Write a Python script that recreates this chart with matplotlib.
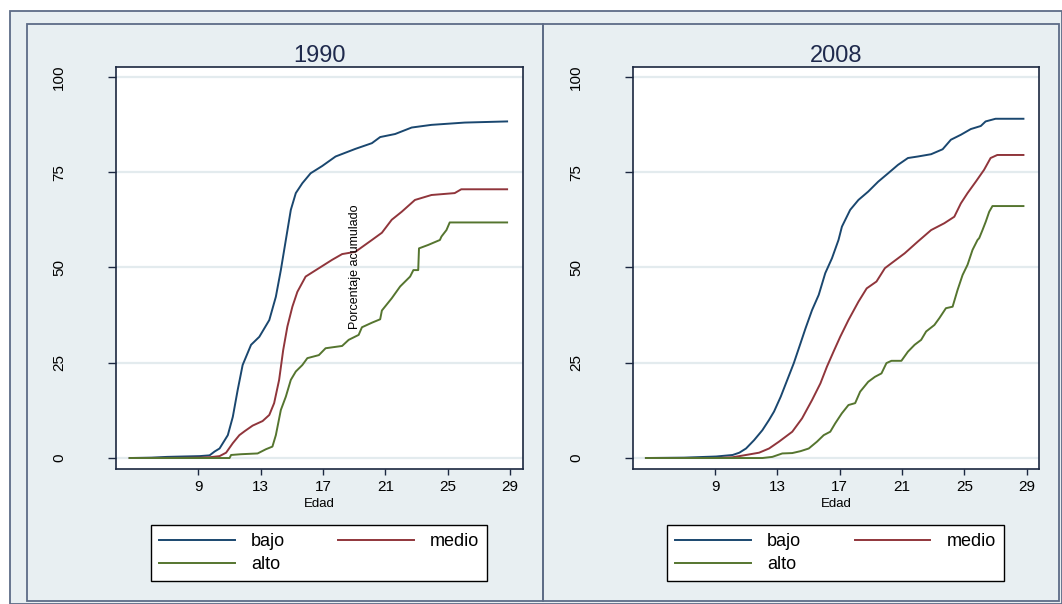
"""Cumulative percentage by age (1990 vs 2008), three groups, Stata s2color look."""

import matplotlib

matplotlib.use("Agg")
import matplotlib.pyplot as plt  # noqa: E402
from matplotlib.patches import Rectangle  # noqa: E402

plt.rcParams["font.family"] = ["Liberation Sans", "DejaVu Sans"]

W, H = 1062, 604
BG = "#E8EFF2"
GRID = "#E3EBEE"
FRAME = "#5D6C87"
SPINE = "#1B2740"
TITLE = "#1F2A4D"
COLORS = {"bajo": "#1A476F", "medio": "#90353B", "alto": "#55752F"}

XTICKS = [9, 13, 17, 21, 25, 29]
YTICKS = [0, 25, 50, 75, 100]
GROUPS = ["bajo", "medio", "alto"]
PANEL_TITLES = ["1990", "2008"]

# 1990
AGE_1990_BAJO = [4.6, 6.0, 7.0, 8.0, 9.08, 9.72, 10.04, 10.36, 10.89, 11.21, 11.52, 11.84,
                 12.38, 12.91, 13.55, 13.97, 14.29, 14.61, 14.93, 15.25, 15.67, 16.2,
                 16.94, 17.8, 19.07, 20.13, 20.66, 21.62, 22.68, 23.95, 26.08, 28.8]
PCT_1990_BAJO = [0.0, 0.1, 0.3, 0.4, 0.5, 0.7, 1.7, 2.5, 6.0, 10.8, 17.8, 24.4,
                 29.7, 31.8, 36.2, 42.3, 49.3, 57.2, 65.1, 69.5, 72.1, 74.7,
                 76.6, 79.1, 81.1, 82.6, 84.2, 85.0, 86.7, 87.4, 88.0, 88.3]
AGE_1990_MEDIO = [4.6, 8.0, 9.0, 9.72, 10.36, 10.78, 11.21, 11.63, 11.99, 12.48, 13.12,
                  13.55, 13.86, 14.18, 14.44, 14.71, 15.03, 15.35, 15.88, 16.73, 17.58,
                  18.22, 19.07, 20.13, 20.77, 21.4, 22.04, 22.89, 23.95, 25.44, 25.86, 28.8]
PCT_1990_MEDIO = [0.0, 0.05, 0.1, 0.2, 0.5, 1.4, 3.9, 6.0, 7.1, 8.5, 9.7,
                  11.3, 14.4, 20.5, 28.3, 34.5, 39.7, 43.6, 47.6, 49.8, 52.0,
                  53.5, 54.1, 57.2, 59.1, 62.5, 64.6, 67.7, 69.0, 69.5, 70.5, 70.5]
AGE_1990_ALTO = [4.6, 11.0, 11.1, 11.74, 12.8, 13.33, 13.75, 13.97, 14.29, 14.61, 14.93,
                 15.25, 15.67, 15.99, 16.73, 17.16, 18.22, 18.64, 19.28, 19.49, 20.13,
                 20.66, 20.77, 21.4, 21.94, 22.58, 22.79, 23.1, 23.15, 23.74, 24.49,
                 24.59, 24.91, 25.12, 28.8]
PCT_1990_ALTO = [0.0, 0.0, 0.8, 1.0, 1.2, 2.3, 3.0, 6.0, 12.6, 16.1, 20.5,
                 22.7, 24.4, 26.2, 27.0, 28.8, 29.4, 31.0, 32.3, 34.3, 35.5,
                 36.4, 38.7, 41.9, 45.0, 47.6, 49.3, 49.3, 55.0, 55.9, 57.2,
                 58.1, 59.8, 61.8, 61.8]

# 2008
AGE_2008_BAJO = [4.55, 7.0, 9.06, 10.12, 10.55, 10.98, 11.5, 12.03, 12.46, 12.78, 13.21,
                 13.63, 14.05, 14.48, 14.8, 15.22, 15.65, 16.07, 16.5, 16.92, 17.14,
                 17.67, 18.2, 18.83, 19.47, 20.11, 20.74, 21.38, 22.02, 22.87, 23.61,
                 24.14, 24.78, 25.42, 26.06, 26.37, 27.01, 28.8]
PCT_2008_BAJO = [0.0, 0.1, 0.4, 0.8, 1.4, 2.5, 4.7, 7.3, 10.0, 12.2, 16.1,
                 20.5, 24.9, 30.1, 34.0, 38.8, 42.8, 48.5, 52.4, 57.2, 60.7,
                 65.1, 67.7, 69.9, 72.5, 74.7, 76.9, 78.7, 79.1, 79.7, 81.0,
                 83.5, 84.8, 86.3, 87.1, 88.3, 89.0, 89.0]
AGE_2008_MEDIO = [4.55, 9.0, 10.12, 10.98, 11.82, 12.46, 13.1, 13.95, 14.58, 15.22, 15.76,
                  16.18, 16.6, 17.03, 17.56, 18.2, 18.73, 19.36, 19.9, 20.32, 21.17,
                  22.02, 22.87, 23.72, 24.36, 24.78, 25.21, 25.74, 26.27, 26.69, 27.12, 28.8]
PCT_2008_MEDIO = [0.0, 0.0, 0.2, 0.8, 1.4, 2.5, 4.3, 6.9, 10.4, 15.2, 19.6,
                  24.0, 27.9, 31.8, 36.2, 41.0, 44.5, 46.3, 49.8, 51.1, 53.7,
                  56.8, 59.8, 61.6, 63.3, 66.8, 69.5, 72.5, 75.6, 78.7, 79.5, 79.5]
AGE_2008_ALTO = [4.55, 12.03, 12.67, 13.31, 13.95, 14.48, 15.01, 15.54, 15.97, 16.39,
                 16.71, 17.13, 17.56, 17.99, 18.31, 18.83, 19.26, 19.68, 20.0, 20.32,
                 20.96, 21.38, 21.81, 22.23, 22.55, 23.08, 23.4, 23.82, 24.25, 24.57,
                 24.89, 25.21, 25.53, 25.85, 25.96, 26.17, 26.38, 26.6, 26.81, 28.8]
PCT_2008_ALTO = [0.0, 0.0, 0.3, 1.2, 1.3, 1.8, 2.5, 4.3, 6.0, 6.9,
                 9.1, 11.7, 13.9, 14.4, 17.4, 20.0, 21.3, 22.2, 24.9, 25.5,
                 25.5, 27.9, 29.7, 31.0, 33.2, 34.9, 36.7, 39.3, 39.7, 44.1,
                 48.0, 50.7, 54.6, 57.2, 57.7, 59.8, 62.0, 64.6, 66.1, 66.1]

SERIES = {
    "1990": {"bajo": (AGE_1990_BAJO, PCT_1990_BAJO),
             "medio": (AGE_1990_MEDIO, PCT_1990_MEDIO),
             "alto": (AGE_1990_ALTO, PCT_1990_ALTO)},
    "2008": {"bajo": (AGE_2008_BAJO, PCT_2008_BAJO),
             "medio": (AGE_2008_MEDIO, PCT_2008_MEDIO),
             "alto": (AGE_2008_ALTO, PCT_2008_ALTO)},
}


def fx(px):
    return px / W


def fy(py):
    return 1 - py / H


def draw_panel(fig, left_px, right_px, title, legend_px):
    """One by-group panel: curves, Stata-like axes and legend below."""
    top_px, bottom_px = 67.3, 468.7
    ax = fig.add_axes([fx(left_px), fy(bottom_px), fx(right_px - left_px),
                       (bottom_px - top_px) / H])
    ax.set_facecolor("white")
    for name in GROUPS:
        ages, pct = SERIES[title][name]
        ax.plot(ages, pct, color=COLORS[name], linewidth=1.4, label=name, zorder=3)

    ax.set_xlim(3.7, 29.8)
    ax.set_ylim(-2.8, 102.5)
    ax.set_xticks(XTICKS)
    ax.set_yticks(YTICKS)
    ax.set_yticklabels([str(v) for v in YTICKS], rotation=90, va="center")
    ax.tick_params(axis="y", length=5.8, width=1, color=SPINE, pad=30, labelsize=11)
    ax.tick_params(axis="x", length=4.3, width=1, color=SPINE, pad=3.6, labelsize=11)
    ax.grid(axis="y", color=GRID, linewidth=1.6, zorder=1)
    ax.set_axisbelow(True)
    for spine in ax.spines.values():
        spine.set_color(SPINE)
        spine.set_linewidth(1.2)
    ax.set_xlabel("Edad", fontsize=9.5, labelpad=3)
    ax.set_title(title, fontsize=17, color=TITLE, pad=4)

    handles, labels = ax.get_legend_handles_labels()
    order = [0, 2, 1]  # row-major: bajo, medio / alto
    lx0, lx1 = legend_px
    leg = ax.legend([handles[i] for i in order], [labels[i] for i in order],
                    ncol=2, loc="center", mode="expand", fontsize=13,
                    bbox_to_anchor=(fx(lx0), fy(579.3), fx(lx1 - lx0), (579.3 - 526.7) / H),
                    bbox_transform=fig.transFigure, frameon=True, fancybox=False,
                    edgecolor="black", framealpha=1, handlelength=4.2,
                    handletextpad=0.9, columnspacing=2.3, labelspacing=0.32,
                    borderpad=0.45, borderaxespad=0)
    leg.get_frame().set_linewidth(1.0)
    return ax


fig = plt.figure(figsize=(W / 100, H / 100), dpi=100, facecolor="white")

# graph region and the two panel frames, kept behind the axes
fig.patches.append(Rectangle((fx(9.6), 0), 1 - fx(9.6), fy(10.5), transform=fig.transFigure,
                             facecolor=BG, edgecolor=FRAME, linewidth=1.3, zorder=-10))
for x0, x1 in [(26.8, 543), (543, 1059)]:
    fig.patches.append(Rectangle((fx(x0), fy(601)), fx(x1 - x0), (601 - 24) / H,
                                 transform=fig.transFigure, facecolor="none",
                                 edgecolor=FRAME, linewidth=1.3, zorder=-9))

draw_panel(fig, 115.7, 522.7, PANEL_TITLES[0], (150.7, 487.5))
draw_panel(fig, 632.7, 1039.0, PANEL_TITLES[1], (667.0, 1004.0))

# y-axis title, stranded in the middle of the first panel as in the source
fig.text(fx(355), fy(267), "Porcentaje acumulado", rotation=90, ha="center",
         va="center", fontsize=9, color="black")

fig.savefig("out.png", dpi=100, facecolor=fig.get_facecolor())
